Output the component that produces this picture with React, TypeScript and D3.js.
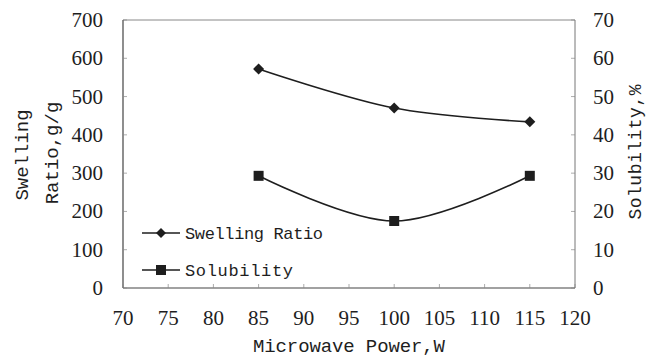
import React from "react";
import * as d3 from "d3";

// data
const power = [85, 100, 115];
const swellingRatio = [572, 470, 434];
const solubility = [29.3, 17.5, 29.3];
const xTicks = [70, 75, 80, 85, 90, 95, 100, 105, 110, 115, 120];
const leftTicks = [0, 100, 200, 300, 400, 500, 600, 700];
const rightTicks = [0, 10, 20, 30, 40, 50, 60, 70];

const W = 646;
const H = 359;
const m = { left: 123, right: 575, top: 20, bottom: 288 };

const ink = "#1e1e1e";
const numFont = "Times New Roman";
const txtFont = "Liberation Mono";

export default function App() {
  const x = d3.scaleLinear().domain([70, 120]).range([m.left, m.right]);
  const yL = d3.scaleLinear().domain([0, 700]).range([m.bottom, m.top]);
  const yR = d3.scaleLinear().domain([0, 70]).range([m.bottom, m.top]);

  //smoothed lines like the spreadsheet original
  const swellLine = d3
    .line<number>()
    .x((d, i) => x(power[i]))
    .y(d => yL(d))
    .curve(d3.curveCatmullRom.alpha(0.5));
  const solLine = d3
    .line<number>()
    .x((d, i) => x(power[i]))
    .y(d => yR(d))
    .curve(d3.curveCatmullRom.alpha(0.5));

  const diamond = (cx: number, cy: number, r = 5.5) =>
    `M${cx},${cy - r}L${cx + r},${cy}L${cx},${cy + r}L${cx - r},${cy}Z`;

  return (
    <svg
      width={W}
      height={H}
      fontFamily={numFont}
      style={{ position: "absolute", left: 0, top: 0, background: "#fff" }}
    >
      {/* frame: dark left/bottom, lighter top/right like the scan */}
      <line x1={m.left} x2={m.right} y1={m.top} y2={m.top} stroke="#888" strokeWidth={1} />
      <line x1={m.right} x2={m.right} y1={m.top} y2={m.bottom} stroke="#777" strokeWidth={1} />
      <line x1={m.left} x2={m.left} y1={m.top} y2={m.bottom} stroke="#444" strokeWidth={1.2} />
      <line x1={m.left} x2={m.right} y1={m.bottom} y2={m.bottom} stroke="#444" strokeWidth={1.2} />

      {/* left axis */}
      {leftTicks.map(t => (
        <g key={"l" + t}>
          <line x1={m.left} x2={m.left + 4} y1={yL(t)} y2={yL(t)} stroke="#888" strokeWidth={0.7} />
          <text fontFamily={numFont} fontSize={21} fill={ink} x={103} y={yL(t) + 7} textAnchor="end">
            {String(t)}
          </text>
        </g>
      ))}

      {/* right axis */}
      {rightTicks.map(t => (
        <g key={"r" + t}>
          <line x1={m.right - 4} x2={m.right} y1={yR(t)} y2={yR(t)} stroke="#888" strokeWidth={0.7} />
          <text fontFamily={numFont} fontSize={21} fill={ink} x={593} y={yR(t) + 7} textAnchor="start">
            {String(t)}
          </text>
        </g>
      ))}

      {/* x axis */}
      {xTicks.map(t => (
        <g key={"x" + t}>
          <line x1={x(t)} x2={x(t)} y1={m.bottom} y2={m.bottom - 4} stroke="#888" strokeWidth={0.7} />
          <text fontFamily={numFont} fontSize={21} fill={ink} x={x(t)} y={325} textAnchor="middle">
            {String(t)}
          </text>
        </g>
      ))}

      {/* axis titles */}
      <text fontFamily={txtFont} fill={ink} x={349} y={352} textAnchor="middle" fontSize={19} textLength={192}>
        Microwave Power,W
      </text>
      <text fontFamily={txtFont} fill={ink} transform="translate(28,155) rotate(-90)" textAnchor="middle" fontSize={19}>
        Swelling
      </text>
      <text fontFamily={txtFont} fill={ink} transform="translate(58,153) rotate(-90)" textAnchor="middle" fontSize={19}>
        Ratio,g/g
      </text>
      <text
        fontFamily={txtFont}
        fill={ink}
        transform="translate(641,152) rotate(-90)"
        textAnchor="middle"
        fontSize={18}
        textLength={135}
      >
        Solubility,%
      </text>

      {/* series */}
      <path d={swellLine(swellingRatio) || ""} fill="none" stroke={ink} strokeWidth={1.6} />
      <path d={solLine(solubility) || ""} fill="none" stroke={ink} strokeWidth={1.6} />
      {swellingRatio.map((v, i) => (
        <path key={"d" + i} d={diamond(x(power[i]), yL(v))} fill={ink} />
      ))}
      {solubility.map((v, i) => (
        <rect key={"s" + i} x={x(power[i]) - 5} y={yR(v) - 5} width={10} height={10} fill={ink} />
      ))}

      {/* legend */}
      <g>
        <line x1={142} x2={180} y1={233} y2={233} stroke={ink} strokeWidth={1.6} />
        <path d={diamond(161, 233, 5)} fill={ink} />
        <text fontFamily={txtFont} fill={ink} x={185} y={239} fontSize={17} textLength={138}>
          Swelling Ratio
        </text>
        <line x1={142} x2={180} y1={270} y2={270} stroke={ink} strokeWidth={1.6} />
        <rect x={156} y={265} width={10} height={10} fill={ink} />
        <text fontFamily={txtFont} fill={ink} x={185} y={276} fontSize={17} textLength={108}>
          Solubility
        </text>
      </g>
    </svg>
  );
}
